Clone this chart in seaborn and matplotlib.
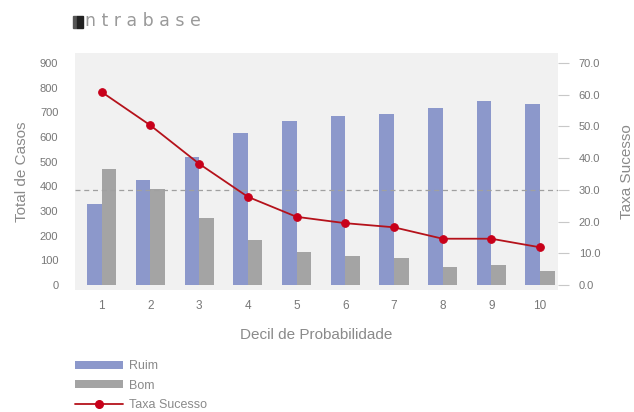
import numpy as np
import pandas as pd
import seaborn as sns
import matplotlib.pyplot as plt
from matplotlib.patches import Patch, Rectangle
from matplotlib.lines import Line2D

# Data
decis = ["1", "2", "3", "4", "5", "6", "7", "8", "9", "10"]
ruim = [330, 425, 518, 614, 665, 686, 693, 719, 746, 735]
bom = [470, 389, 273, 184, 134, 119, 108, 75, 82, 55]
taxa_sucesso = [60.8, 50.3, 38.2, 27.8, 21.5, 19.5, 18.2, 14.6, 14.6, 11.9]
taxa_media = 29.8

left_ticks = [0, 100, 200, 300, 400, 500, 600, 700, 800, 900]
right_ticks = [0, 10, 20, 30, 40, 50, 60, 70]

COL_RUIM = "#8c98cb"
COL_BOM = "#a4a4a4"
COL_LINE = "#b5121b"
COL_MARK = "#c8001a"
COL_BG = "#f1f1f1"
COL_TEXT = "#8a8a8a"

sns.set_theme(style="white")
plt.rcParams["font.family"] = ["Liberation Sans", "DejaVu Sans"]

df = pd.DataFrame({
    "Decil": decis * 2,
    "Casos": ruim + bom,
    "Tipo": ["Ruim"] * len(decis) + ["Bom"] * len(decis),
})

fig = plt.figure(figsize=(6.34, 4.12), dpi=100)
ax = fig.add_axes([75 / 634, 1 - 290 / 412, (558 - 75) / 634, (290 - 53) / 412])
ax.set_facecolor(COL_BG)

sns.barplot(data=df, x="Decil", y="Casos", hue="Tipo", order=decis,
            hue_order=["Ruim", "Bom"], palette=[COL_RUIM, COL_BOM],
            width=0.6, gap=0, saturation=1, linewidth=0, legend=False, ax=ax)

ylo, yhi = -20, 940
ax.set_ylim(ylo, yhi)
ax.set_xlim(-0.55, 9.37)
ax.set_yticks(left_ticks)
ax.set_yticklabels([str(v) for v in left_ticks])
ax.set_xlabel("Decil de Probabilidade", color=COL_TEXT, fontsize=11, labelpad=12)
ax.set_ylabel("Total de Casos", color=COL_TEXT, fontsize=11, labelpad=8)
ax.tick_params(axis="y", length=0, pad=12, labelsize=8, labelcolor="#777777")
ax.tick_params(axis="x", length=0, pad=7, labelsize=8.5, labelcolor="#777777")
ax.set_xticks(np.arange(len(decis)) + 0.5, minor=True)
ax.tick_params(axis="x", which="minor", direction="in", length=7, width=0.8,
               color="#cfcfcf")
for s in ax.spines.values():
    s.set_visible(False)

# Secondary axis: success rate
ax2 = ax.twinx()
scale = 70 / 900
ax2.set_ylim(ylo * scale, yhi * scale)
ax2.axhline(taxa_media, color="#a0a0a0", lw=0.9, ls=(0, (4, 3)), zorder=1)
pos = np.arange(len(decis))
sns.lineplot(x=pos, y=taxa_sucesso, ax=ax2, color=COL_LINE, lw=1.3,
             marker="o", markersize=5.5, markerfacecolor=COL_MARK,
             markeredgecolor=COL_MARK, zorder=5)
ax2.set_xlim(-0.55, 9.37)
ax2.set_yticks(right_ticks)
ax2.set_yticklabels([f"{v:.1f}" for v in right_ticks])
ax2.tick_params(axis="y", direction="out", length=8, width=0.8, color="#c8c8c8",
                pad=7, labelsize=8, labelcolor="#777777")
ax2.set_ylabel("Taxa Sucesso", color=COL_TEXT, fontsize=11, labelpad=14)
for s in ax2.spines.values():
    s.set_visible(False)

# Brand mark
fig.patches.append(Rectangle((73 / 634, 1 - 28 / 412), 4 / 634, 12 / 412,
                             transform=fig.transFigure, color="#555555"))
fig.patches.append(Rectangle((77 / 634, 1 - 28 / 412), 6 / 634, 12 / 412,
                             transform=fig.transFigure, color="#222222"))
fig.text(85 / 634, 1 - 21 / 412, "n t r a b a s e", color="#9a9a9a",
         fontsize=12.5, va="center", ha="left", family=["DejaVu Sans"])

# Legend
handles = [
    Patch(facecolor=COL_RUIM, edgecolor="none", label="Ruim"),
    Patch(facecolor=COL_BOM, edgecolor="none", label="Bom"),
    Line2D([0], [0], color=COL_LINE, lw=1.3, marker="o", markersize=5.5,
           markerfacecolor=COL_MARK, markeredgecolor=COL_MARK, label="Taxa Sucesso"),
]
leg = fig.legend(handles=handles, loc="upper left", bbox_to_anchor=(70 / 634, 1 - 355 / 412),
                 frameon=False, fontsize=9, handlelength=3.8, handleheight=0.6,
                 labelspacing=0.62, handletextpad=0.55, borderaxespad=0)
for t in leg.get_texts():
    t.set_color(COL_TEXT)

fig.savefig("out.png", dpi=100, facecolor="white")
